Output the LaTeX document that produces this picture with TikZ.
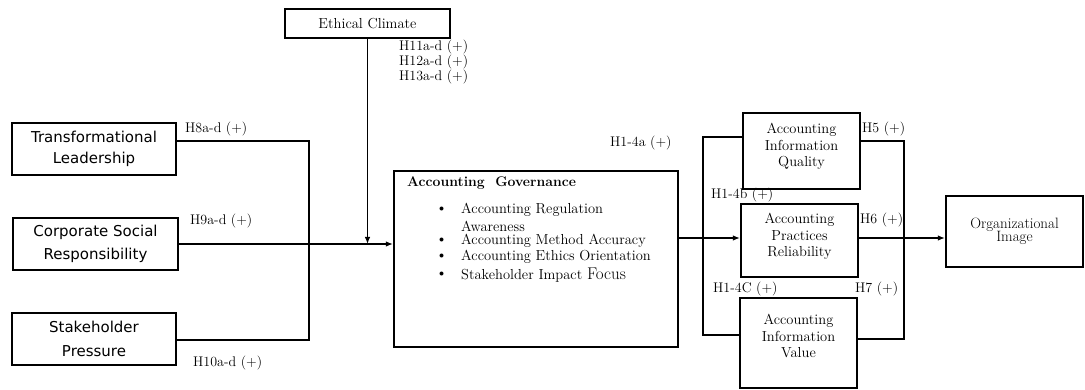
\documentclass[tikz,border=0pt]{standalone}
\usepackage{fontspec}
\newfontfamily\boxsans{DejaVu Sans}
\usetikzlibrary{arrows.meta}
\newcommand{\dropdepth}[1]{\rule[-#1]{0pt}{1pt}}
\begin{document}
\begin{tikzpicture}[x=1pt,y=-1pt,
  box/.style={draw, line width=2.2pt, inner sep=0pt, align=center},
  sbox/.style={box, font=\boxsans\fontsize{15}{21}\selectfont},
  rbox/.style={box, font=\fontsize{14.5}{16.5}\selectfont},
  lbl/.style={inner sep=0pt, anchor=west, font=\fontsize{14}{16}\selectfont},
  itm/.style={inner sep=0pt, anchor=west, font=\fontsize{14.5}{16}\selectfont},
  conn/.style={line width=1.3pt},
  arr/.style={conn, -{Latex[length=7pt,width=5.5pt]}}
]
\fill[white] (0,0) rectangle (1085,390);
\useasboundingbox (0,0) rectangle (1085,390);

% boxes
\node[box, minimum width=165, minimum height=29, font=\fontsize{14.5}{16}\selectfont] (ec) at (367.5,23.5) {Ethical Climate};
\node[sbox, minimum width=164, minimum height=52] (tl) at (94,149) {Transformational\\Leadership};
\node[sbox, minimum width=165, minimum height=52] (csr) at (95.5,244) {Corporate Social\\[2pt]Responsibility};
\node[sbox, minimum width=164, minimum height=52] (sp) at (94,339) {Stakeholder\\[3pt]Pressure};
\node[box, minimum width=284, minimum height=176] (ag) at (536,259) {};
\node[rbox, minimum width=117, minimum height=76] (aiq) at (801.5,151) {Accounting\\Information\\Quality\dropdepth{12pt}};
\node[rbox, minimum width=117, minimum height=73] (apr) at (799.5,240.5) {Accounting\\Practices\\Reliability\dropdepth{11pt}};
\node[rbox, minimum width=117, minimum height=90] (aiv) at (798.5,343) {Accounting\\Information\\Value\dropdepth{14pt}};
\node[box, minimum width=137, minimum height=71, font=\fontsize{15}{13.5}\selectfont] (oi) at (1014.5,231.5) {Organizational\\Image};

% governance content
\node[itm, font=\bfseries\fontsize{14}{16}\selectfont] (agt) at (407,183) {Accounting\ \ Governance};
\node[itm] (b1) at (436,210) {\textbullet};
\node[itm] (i1) at (461,210) {Accounting Regulation};
\node[itm] (i1b) at (461,226) {Awareness};
\node[itm] (b2) at (436,241) {\textbullet};
\node[itm] (i2) at (461,241) {Accounting Method\ Accuracy};
\node[itm] (b3) at (436,257) {\textbullet};
\node[itm] (i3) at (461,257) {Accounting Ethics Orientation};
\node[itm] (b4) at (436,275) {\textbullet};
\node[itm] (i4) at (461,275) {Stakeholder Impact {\fontsize{17}{18}\selectfont Focus}};

% labels
\node[lbl, align=left, font=\fontsize{14}{13}\selectfont] (h11) at (399,62) {H11a-d (+)\\H12a-d (+)\\H13a-d (+)};
\node[lbl] (h8) at (185,129) {H8a-d (+)};
\node[lbl] (h9) at (190,221) {H9a-d (+)};
\node[lbl] (h10) at (193,363) {H10a-d (+)};
\node[lbl] (h14a) at (610,143) {H1-4a (+)};
\node[lbl] (h14b) at (711,195) {H1-4b (+)};
\node[lbl] (h14c) at (713,289) {H1-4C (+)};
\node[lbl] (h5) at (862,129) {H5 (+)};
\node[lbl] (h6) at (860,220) {H6 (+)};
\node[lbl] (h7) at (855,289) {H7 (+)};

% junction coordinates
\coordinate (jt) at (309,141);
\coordinate (js) at (309,340);
\coordinate (ja) at (703,238);
\coordinate (jq) at (703,137);
\coordinate (jv) at (703,335);
\coordinate (kq) at (904,141);
\coordinate (kv) at (904,339);

% left connectors
\draw[conn] (tl.east |- jt) -- (jt) -- (js) -- (sp.east |- js);
\draw[arr] (csr.east) -- (csr.east -| ag.west);
\draw[arr] (ec.south) -- (ec.south |- csr.east);

% right connectors
\draw[conn] (aiq.west |- jq) -- (jq) -- (jv) -- (aiv.west |- jv);
\draw[arr] (ag.east |- ja) -- (apr.west |- ja);
\draw[conn] (aiq.east |- kq) -- (kq) -- (kv) -- (aiv.east |- kv);
\draw[arr] (apr.east |- ja) -- (oi.west |- ja);
\end{tikzpicture}
\end{document}
